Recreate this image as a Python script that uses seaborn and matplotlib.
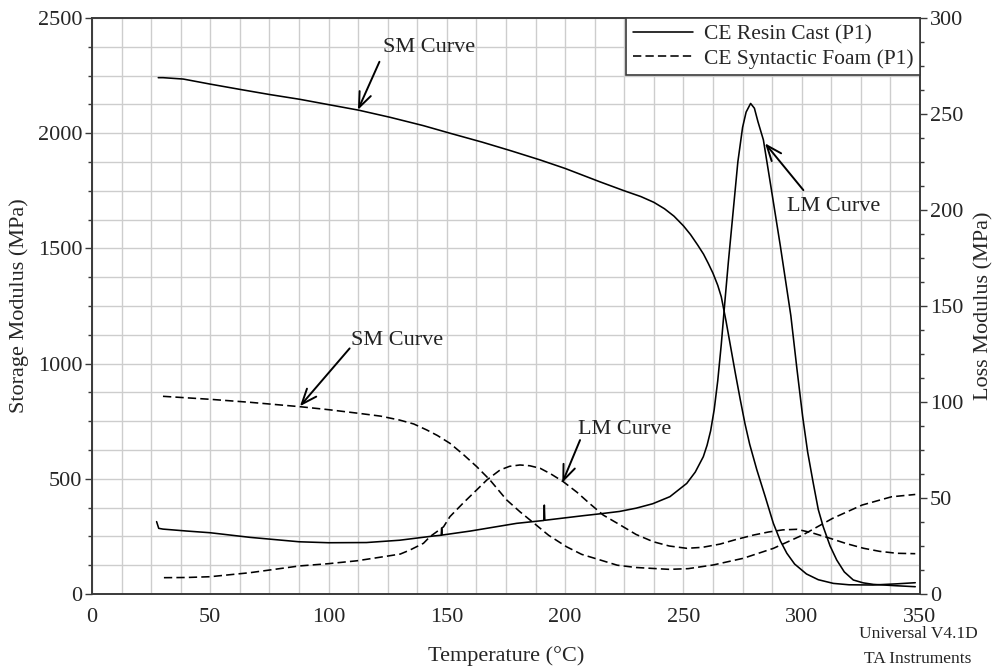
import numpy as np
import pandas as pd
import matplotlib
matplotlib.use("Agg")
import matplotlib.pyplot as plt
from matplotlib.lines import Line2D
from matplotlib.ticker import MultipleLocator
import seaborn as sns

# ---- DMA traces (temperature in °C) ----
# CE resin cast: storage modulus (left axis, MPa)
resin_sm_t = [28, 30, 38.6, 50, 62.6, 75, 87.9, 100, 112.7, 126, 140, 151.3, 165, 177,
              189.4, 200, 214.7, 225, 232, 237.5, 242, 246, 250, 253, 256, 258.5, 260.5,
              262.5, 264.5, 266, 268, 270, 272, 274, 276, 278, 281, 284.5, 288, 291, 293.7,
              297, 302, 307, 313.4, 320, 330, 340, 348]
resin_sm = [2241, 2241, 2235, 2213, 2190, 2168, 2147, 2124, 2100, 2069, 2033, 2000, 1961, 1924,
            1884, 1847, 1789, 1750, 1725, 1700, 1672, 1640, 1598, 1560, 1515, 1475, 1435,
            1392, 1340, 1290, 1185, 1070, 955, 845, 740, 650, 540, 425, 307, 230, 177,
            130, 87, 62, 46, 40, 39, 44, 49]

# CE resin cast: loss modulus (right axis, MPa)
resin_lm_t = [27.3, 28.2, 30, 40, 50, 66.8, 87.6, 100, 116, 130, 144.3, 147.6, 147.8, 148.0,
              160, 179.5, 191.0, 191.2, 191.4, 207.7, 215, 223, 230, 237, 244.3, 251.4, 255,
              258.4, 260, 261.5, 263, 264.5, 266, 267.5, 269, 271, 273, 275, 276.5, 278.4,
              280, 281.5, 283.8, 287, 291, 295.4, 298, 300.4, 302.5, 304.9, 307, 309.1,
              312, 314.8, 318, 321.8, 326, 330.3, 340, 348]
resin_lm = [37.7, 34.2, 33.8, 32.8, 31.9, 29.5, 27.2, 26.7, 26.8, 28.0, 30.2, 30.6, 34.2, 30.7,
            32.8, 36.8, 38.3, 46.3, 38.4, 40.8, 41.8, 43.0, 44.7, 47.0, 50.7, 57.6, 63.5,
            71.5, 77.5, 85, 96, 111, 130, 152, 173, 199, 225, 243, 251, 255.5,
            253, 246, 236.5, 212, 181, 145, 117, 92.4, 74, 57.6, 44, 35,
            25, 17.7, 11.5, 7.3, 5.8, 5.0, 4.3, 3.8]

# CE syntactic foam: storage modulus (left axis, MPa)
foam_sm_t = [30, 50, 66.8, 87.9, 100, 112.9, 122, 130, 136, 141.5, 146, 151.3, 157, 162.6,
             168.2, 175.3, 181, 186.5, 193, 200.6, 207, 214.7, 222, 230, 244, 252, 262.6,
             275.3, 288, 300.4, 313, 325.5, 338, 348]
foam_sm = [858, 845, 832, 813, 800, 784, 772, 755, 738, 712, 688, 654, 605, 553,
           495, 408, 356, 310, 255, 205, 172, 148, 125, 115, 107, 110, 126,
           155, 198, 256, 328, 386, 422, 432]

# CE syntactic foam: loss modulus (right axis, MPa)
foam_lm_t = [30.4, 40, 49.9, 66.8, 87.6, 100, 112, 123.1, 130.3, 134.4, 140.1, 142.9, 148.6,
             151.3, 157, 162.6, 167, 172.5, 176.5, 180.9, 185, 189.4, 194, 199.2, 205, 210,
             216.1, 223.2, 230, 237.3, 244, 251.4, 258, 265.5, 272, 279.6, 286, 292, 298,
             304, 312, 319, 326.2, 333, 340.3, 348]
foam_lm = [8.5, 8.6, 9.0, 11.1, 14.6, 15.8, 17.3, 19.4, 20.8, 22.9, 26.4, 29.9, 35,
           40.3, 47.5, 54.2, 59.5, 64.6, 66.5, 67.2, 66.8, 65.5, 62.5, 58.5, 53, 47.5,
           41.1, 36, 31, 27.2, 25, 23.8, 24.3, 26, 28.3, 30.7, 32.3, 33.4, 33.7,
           32, 29, 26.2, 23.8, 22.2, 21.2, 21]

x_ticks = [0, 50, 100, 150, 200, 250, 300, 350]
left_ticks = [0, 500, 1000, 1500, 2000, 2500]
right_ticks = [0, 50, 100, 150, 200, 250, 300]
series_labels = ["CE Resin Cast (P1)", "CE Syntactic Foam (P1)"]

# ---- style ----
sns.set_style("white")
plt.rcParams["font.family"] = ["Liberation Serif", "DejaVu Serif"]

FS = 16
INK = "black"
SPINE = "#3a3a3a"
GRID = "#cdcdcd"
LW = 1.15
DASH = (0, (5.2, 2.6))

fig = plt.figure(figsize=(9.97, 6.69), dpi=100)
ax = fig.add_axes([92 / 997, 1 - 594 / 669, 828 / 997, 576 / 669])
ax2 = ax.twinx()

# storage modulus traces
sns.lineplot(x=resin_sm_t, y=resin_sm, ax=ax, color=INK, lw=LW, errorbar=None)
sns.lineplot(x=foam_sm_t, y=foam_sm, ax=ax, color=INK, lw=LW, errorbar=None, linestyle=DASH)
# loss modulus traces
sns.lineplot(x=resin_lm_t, y=resin_lm, ax=ax2, color=INK, lw=LW, errorbar=None)
sns.lineplot(x=foam_lm_t, y=foam_lm, ax=ax2, color=INK, lw=LW, errorbar=None, linestyle=DASH)

ax.set_xlim(0, 350)
ax.set_ylim(0, 2500)
ax2.set_ylim(0, 300)

ax.set_xticks(x_ticks)
ax.set_yticks(left_ticks)
ax2.set_yticks(right_ticks)
ax.xaxis.set_minor_locator(MultipleLocator(12.5))
ax.yaxis.set_minor_locator(MultipleLocator(125))
ax2.yaxis.set_minor_locator(MultipleLocator(12.5))

ax.grid(True, which="both", color=GRID, lw=1.0)
ax.set_axisbelow(True)
ax2.grid(False)

for a in (ax, ax2):
    for s in a.spines.values():
        s.set_color(SPINE)
        s.set_linewidth(1.2)
    a.tick_params(which="major", direction="out", length=5, width=1.0, color=SPINE,
                  labelsize=FS, pad=2)
    a.tick_params(which="minor", direction="out", length=3, width=1.0, color=SPINE)
ax.tick_params(axis="x", which="major", pad=5)
ax.tick_params(axis="y", which="both", left=True, right=False)
ax2.tick_params(axis="y", which="both", right=True, left=False)

ax.set_xlabel("Temperature (°C)", fontsize=FS, labelpad=14)
ax.set_ylabel("Storage Modulus (MPa)", fontsize=FS, labelpad=6)
ax2.set_ylabel("Loss Modulus (MPa)", fontsize=FS, labelpad=8)

# curve call-outs
arrow_kw = dict(arrowstyle="->,head_length=0.55,head_width=0.22", color=INK, lw=1.4,
                shrinkA=0, shrinkB=0, mutation_scale=20)
callouts = [
    ("SM Curve", (112.4, 2101), (121.5, 2310), (122.9, 2370)),
    ("SM Curve", (87.9, 815), (108.9, 1066), (109.5, 1102)),
    ("LM Curve", (198.8, 483), (206.3, 668), (205.6, 712)),
    ("LM Curve", (284.5, 1956), (300.7, 1753), (293.6, 1681)),
]
for text, tip, start, pos in callouts:
    ax.annotate("", xy=tip, xytext=start, xycoords="data", textcoords="data",
                arrowprops=arrow_kw)
    ax.text(pos[0], pos[1], text, fontsize=FS, ha="left", va="center", color="#222222")

# legend
handles = [Line2D([0], [0], color=INK, lw=LW),
           Line2D([0], [0], color=INK, lw=LW, linestyle=DASH)]
leg = ax2.legend(handles, series_labels, loc="upper right", bbox_to_anchor=(1.0, 1.0),
                 borderaxespad=0, fontsize=15.5, frameon=True, fancybox=False,
                 edgecolor=SPINE, framealpha=1, handlelength=2.8, handletextpad=0.5,
                 labelspacing=0.2, borderpad=0.3)
leg.get_frame().set_linewidth(1.2)

fig.text(918 / 997, 1 - 634 / 669, "Universal V4.1D", fontsize=12.5, ha="center", va="center",
         color="#222222")
fig.text(918 / 997, 1 - 659 / 669, "TA Instruments", fontsize=12.5, ha="center", va="center",
         color="#222222")

fig.savefig("out.png", dpi=100)
